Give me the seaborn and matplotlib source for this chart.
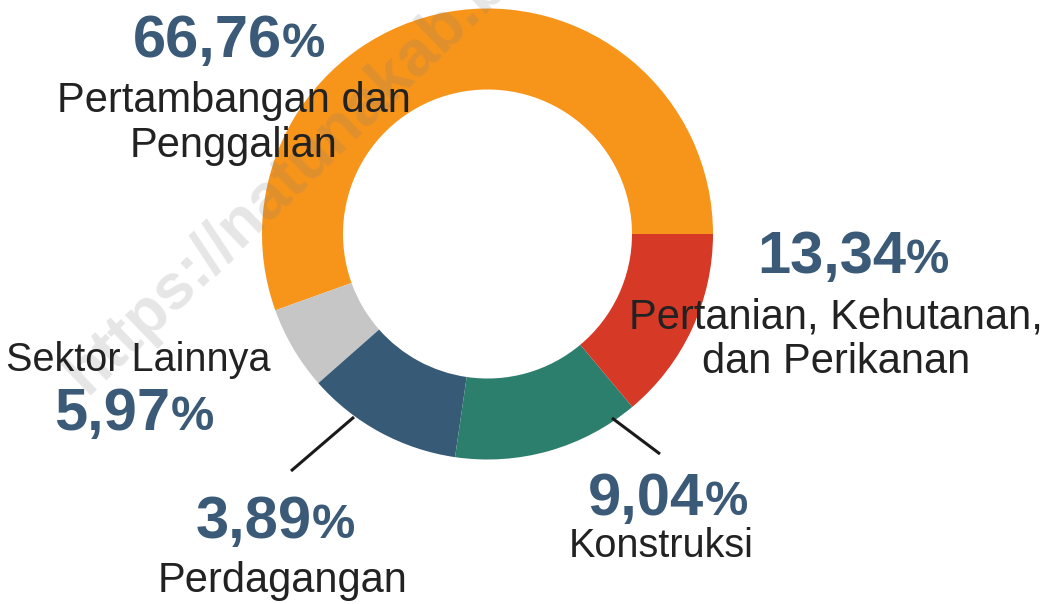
import matplotlib
matplotlib.use("Agg")
import matplotlib.pyplot as plt
import seaborn as sns

# slice shares as measured off the ring (counter-clockwise from 3 o'clock)
sectors = ["Pertambangan dan\nPenggalian", "Sektor Lainnya", "Perdagangan",
           "Konstruksi", "Pertanian, Kehutanan,\ndan Perikanan"]
shares = [55.5, 6.0, 11.2, 13.4, 13.9]
# printed labels
pct_labels = ["66,76", "5,97", "3,89", "9,04", "13,34"]

sns.set_theme(style="white")
plt.rcParams["font.family"] = ["Liberation Sans", "DejaVu Sans"]

COLORS = ["#F7941A", "#C6C6C6", "#375A76", "#2C7F6D", "#D63925"]
NUM_COLOR = "#3A5A78"
TXT_COLOR = "#222222"

W, H = 1048, 604
fig = plt.figure(figsize=(W / 100, H / 100), dpi=100)
ax = fig.add_axes([0, 0, 1, 1])

cx, cy = 487.5, H - 234
ax.pie(shares, colors=COLORS, startangle=0, counterclock=True,
       radius=225.5, center=(cx, cy),
       wedgeprops=dict(width=81, linewidth=0))
ax.set_xlim(0, W)
ax.set_ylim(0, H)
ax.set_aspect("equal")
ax.axis("off")

# watermark (cut by the top edge, as in the original)
ax.text(86, H - 396, "https://natunakab.bps.go.id", rotation=44,
        rotation_mode="anchor", ha="left", va="baseline",
        fontsize=46, fontweight="bold", color="#808080", alpha=0.2)

# (pct index, pct centre x, pct baseline y, name centre x, name baseline y, name size)
layout = [
    (0, 229, 57, 234, 112, 30),
    (1, 134, 430, 138, 371, 28.5),
    (2, 275, 538, 283, 592, 30),
    (3, 668, 515, 661, 557, 28.5),
    (4, 853, 273, 836, 328, 30),
]


def pct_text(x, y, s):
    # big bold number, slightly smaller % sign, centred as a pair
    t1 = ax.text(0, 0, s, fontsize=43, fontweight="bold", color=NUM_COLOR, va="baseline")
    t2 = ax.text(0, 0, "%", fontsize=35, fontweight="bold", color=NUM_COLOR, va="baseline")
    fig.canvas.draw()
    w1 = t1.get_window_extent().width
    w2 = t2.get_window_extent().width
    left = x - (w1 + w2) / 2
    t1.set_position((left, H - y))
    t2.set_position((left + w1, H - y))


for i, px, py, nx, ny, fs in layout:
    pct_text(px, py, pct_labels[i])
    for k, line in enumerate(sectors[i].split("\n")):
        ax.text(nx, H - ny - k * 45, line, ha="center", va="baseline",
                fontsize=fs, color=TXT_COLOR)

# leader lines
ax.plot([354, 291], [H - 417, H - 471], color="#1a1a1a", lw=2.2, solid_capstyle="butt")
ax.plot([612, 660], [H - 418, H - 454], color="#1a1a1a", lw=2.2, solid_capstyle="butt")

fig.savefig("out.png", dpi=100)
